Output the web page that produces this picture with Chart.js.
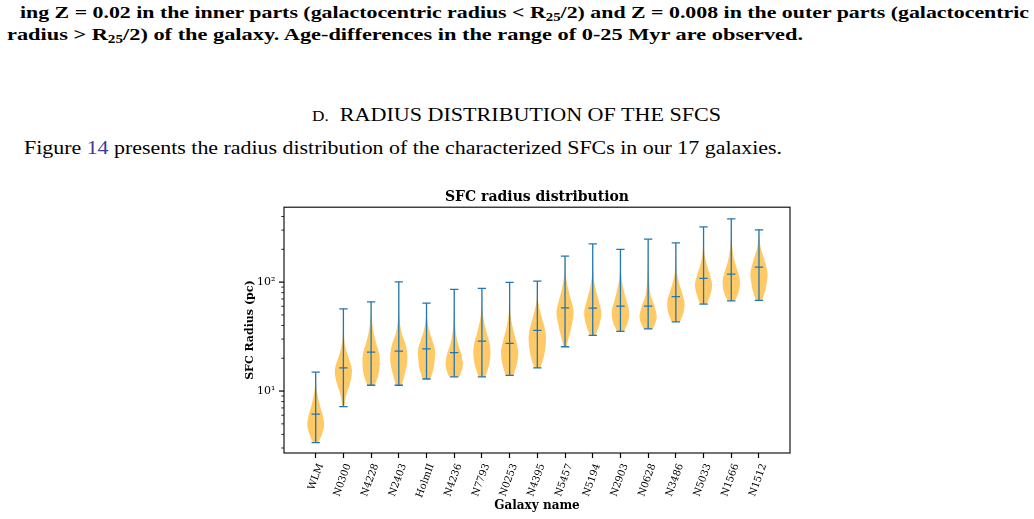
<!DOCTYPE html>
<html><head><meta charset="utf-8">
<script src="https://cdn.jsdelivr.net/npm/chart.js@4.4.1/dist/chart.umd.min.js"></script>
<style>
html,body{margin:0;padding:0;background:#fff;}
body{width:1034px;height:519px;overflow:hidden;position:relative;font-family:"Liberation Serif","Times New Roman",serif;color:#000;}
.t{position:absolute;white-space:nowrap;line-height:1;transform-origin:0 0;}
.b{font-weight:bold;}
sub{font-size:0.68em;vertical-align:-0.22em;line-height:0;}
.lnk{color:#3a3aa0;}
#wrap{position:absolute;left:230px;top:186px;width:570px;height:333px;}
</style></head>
<body>
<div class="t b" data-x="20" data-b="18.5" data-w="1009" data-f="17">ing Z = 0.02 in the inner parts (galactocentric radius &lt; R<sub>25</sub>/2) and Z = 0.008 in the outer parts (galactocentric</div>
<div class="t b" data-x="7" data-b="40" data-w="796" data-f="17">radius &gt; R<sub>25</sub>/2) of the galaxy. Age-differences in the range of 0-25 Myr are observed.</div>
<div class="t" data-x="312" data-b="121.5" data-w="409" data-f="19.5"><span style="font-size:0.78em">D.</span>&nbsp; RADIUS DISTRIBUTION OF THE SFCS</div>
<div class="t" data-x="24" data-b="154" data-w="758" data-f="19">Figure <span class="lnk">14</span> presents the radius distribution of the characterized SFCs in our 17 galaxies.</div>
<div id="wrap"><canvas id="c"></canvas></div>
<script>
// ---- data ----
const galaxies = ['WLM','N0300','N4228','N2403','HolmII','N4236','N7793','N0253','N4395','N5457','N5194','N2903','N0628','N3486','N5033','N1566','N1512'];
const radiusMin = [3.36,7.18,11.3,11.3,12.9,13.5,13.5,13.9,16.3,25.5,32.5,35.3,37.2,43.2,62.8,67.3,68.1];
const radiusMax = [14.9,56.9,65.9,100.6,64.2,85.7,87.5,99.4,102,173,224,199.5,248,229,321,381,302];
const radiusMedian = [6.15,16.3,22.8,23.3,24.4,22.5,28.7,27.4,36.1,58.1,57.7,60.2,60.2,73.6,108.3,118.4,137.3];
// relative violin width at 9 levels (log-spaced from min to max)
const violinWidths = [
  [0.30,0.75,0.98,0.85,0.55,0.30,0.12,0.04,0.02],
  [0.10,0.35,0.80,1.00,0.60,0.20,0.06,0.03,0.02],
  [0.45,0.85,1.00,0.95,0.60,0.30,0.12,0.04,0.02],
  [0.35,0.75,1.00,0.85,0.35,0.10,0.04,0.02,0.01],
  [0.45,0.80,0.95,1.00,0.70,0.35,0.12,0.04,0.02],
  [0.60,1.00,0.85,0.45,0.20,0.08,0.04,0.02,0.01],
  [0.40,0.80,1.00,0.90,0.55,0.25,0.08,0.03,0.01],
  [0.45,0.85,1.00,0.75,0.40,0.15,0.05,0.02,0.01],
  [0.35,0.75,0.95,1.00,0.75,0.40,0.12,0.04,0.02],
  [0.15,0.50,0.80,1.00,0.75,0.40,0.15,0.05,0.02],
  [0.35,0.80,1.00,0.70,0.35,0.12,0.05,0.02,0.01],
  [0.40,0.90,1.00,0.70,0.40,0.15,0.05,0.02,0.01],
  [0.55,1.00,0.75,0.30,0.15,0.08,0.04,0.02,0.01],
  [0.50,0.90,1.00,0.70,0.35,0.12,0.05,0.02,0.01],
  [0.40,0.80,1.00,0.75,0.40,0.15,0.06,0.03,0.01],
  [0.45,0.90,1.00,0.70,0.35,0.15,0.06,0.02,0.01],
  [0.35,0.70,0.90,1.00,0.80,0.50,0.20,0.06,0.02]
];
const yMajorTicks = [10, 100];
const yMajorLabels = ['10\u00B9', '10\u00B2'];
const yMinorTicks = [3,4,5,6,7,8,9,20,30,40,50,60,70,80,90,200,300,400];

// ---- page text fitting ----
document.querySelectorAll('.t').forEach(el => {
  const f = +el.dataset.f;
  el.style.fontSize = f + 'px';
  el.style.left = el.dataset.x + 'px';
  el.style.top = (+el.dataset.b - 0.8375 * f) + 'px';
  const w0 = el.getBoundingClientRect().width;
  el.style.transform = 'scaleX(' + (+el.dataset.w / w0) + ')';
});

// ---- chart ----
const xPos = galaxies.map((g, i) => i + 1);
const VIOLIN_HALF = 0.31, CAP_HALF = 0.15;
const BLUE = '#1f77b4';

function levelValues(i) {
  const lo = Math.log10(radiusMin[i]), hi = Math.log10(radiusMax[i]);
  const n = violinWidths[i].length;
  return violinWidths[i].map((w, k) => Math.pow(10, lo + (hi - lo) * k / (n - 1)));
}

const datasets = [];
galaxies.forEach((g, i) => {
  const vals = levelValues(i);
  const right = vals.map((v, k) => ({x: xPos[i] + VIOLIN_HALF * violinWidths[i][k], y: v}));
  const left = vals.map((v, k) => ({x: xPos[i] - VIOLIN_HALF * violinWidths[i][k], y: v})).reverse();
  datasets.push({
    label: g, data: right.concat(left), fill: 'shape',
    backgroundColor: 'rgba(255,165,0,0.6)', borderWidth: 0, borderColor: 'rgba(0,0,0,0)',
    pointRadius: 0, tension: 0.35, order: 2
  });
});
const whiskers = [];
const caps = [];
galaxies.forEach((g, i) => {
  whiskers.push({x: xPos[i], y: radiusMin[i]}, {x: xPos[i], y: radiusMax[i]}, {x: xPos[i], y: null});
  [radiusMin[i], radiusMax[i], radiusMedian[i]].forEach(v => {
    caps.push({x: xPos[i] - CAP_HALF, y: v}, {x: xPos[i] + CAP_HALF, y: v}, {x: xPos[i], y: null});
  });
});
datasets.push({label: 'range', data: whiskers, borderColor: BLUE, borderWidth: 1.3, pointRadius: 0, tension: 0, fill: false, spanGaps: false, order: 1});
datasets.push({label: 'caps', data: caps, borderColor: BLUE, borderWidth: 1.3, pointRadius: 0, tension: 0, fill: false, spanGaps: false, order: 1});

const framePlugin = {
  id: 'frame',
  afterDraw(chart) {
    const {ctx, chartArea: a, scales: {y}} = chart;
    ctx.save();
    ctx.strokeStyle = '#000';
    ctx.lineWidth = 1.1;
    ctx.strokeRect(a.left, a.top, a.right - a.left, a.bottom - a.top);
    yMajorTicks.forEach(v => {
      const py = y.getPixelForValue(v);
      ctx.beginPath(); ctx.lineWidth = 1.2; ctx.moveTo(a.left - 5, py); ctx.lineTo(a.left, py); ctx.stroke();
    });
    yMinorTicks.forEach(v => {
      const py = y.getPixelForValue(v);
      ctx.beginPath(); ctx.lineWidth = 0.8; ctx.moveTo(a.left - 2.8, py); ctx.lineTo(a.left, py); ctx.stroke();
    });
    ctx.restore();
  }
};

const serif = 'DejaVu Serif';
new Chart(document.getElementById('c'), {
  type: 'line',
  data: {datasets},
  plugins: [framePlugin],
  options: {
    responsive: true, maintainAspectRatio: false, animation: false, events: [],
    layout: {padding: {left: 0, right: 10, top: 0, bottom: 0}},
    plugins: {
      legend: {display: false}, tooltip: {enabled: false},
      title: {display: true, text: 'SFC radius distribution', fullSize: false, color: '#000',
        font: {family: serif, size: 14, weight: 'bold'}, padding: {top: 3, bottom: 1.4}}
    },
    scales: {
      x: {
        type: 'linear', min: -0.144, max: 18.12,
        afterBuildTicks: s => { s.ticks = xPos.map(v => ({value: v})); },
        afterFit: s => { s.height = 66; },
        ticks: {autoSkip: false, minRotation: 70, maxRotation: 70, padding: 4, labelOffset: 5, color: '#000',
          font: {family: serif, size: 10}, callback: v => galaxies[Math.round(v) - 1] || ''},
        grid: {display: true, drawOnChartArea: false, drawTicks: true, tickLength: 5, tickColor: '#000', tickWidth: 1.2},
        border: {display: false},
        title: {display: true, text: 'Galaxy name', color: '#000', font: {family: serif, size: 12, weight: 'bold'}, padding: {top: 0, bottom: 6.4}}
      },
      y: {
        type: 'logarithmic', min: 2.7, max: 487,
        afterBuildTicks: s => {
          s.ticks = yMinorTicks.concat(yMajorTicks).sort((a, b) => a - b).map(v => ({value: v}));
        },
        afterFit: s => { s.width = 54; },
        ticks: {autoSkip: false, padding: 8.5, color: '#000', font: {family: serif, size: 11},
          callback: v => { const k = yMajorTicks.indexOf(v); return k >= 0 ? yMajorLabels[k] : ''; }},
        grid: {display: true, drawOnChartArea: false, drawTicks: false},
        border: {display: false},
        title: {display: true, text: 'SFC Radius (pc)', color: '#000', font: {family: serif, size: 11, weight: 'bold'}, padding: {top: 14, bottom: 0}}
      }
    }
  }
});
</script>
</body></html>
